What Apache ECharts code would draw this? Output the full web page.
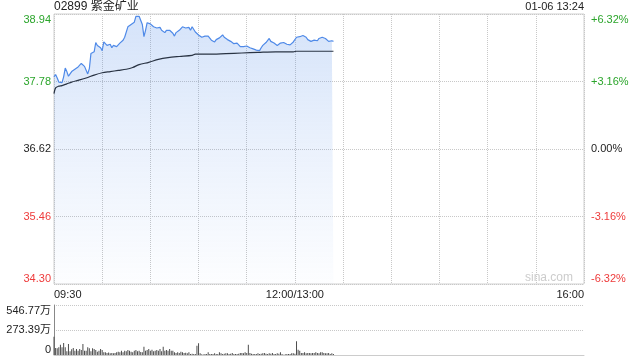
<!DOCTYPE html>
<html><head><meta charset="utf-8">
<script src="https://cdn.jsdelivr.net/npm/echarts@6.0.0/dist/echarts.min.js"></script>
<style>html,body{margin:0;padding:0;background:#fff}#c{width:640px;height:360px}</style>
</head><body><div id="c"></div>
<script>
const stockTitle = '02899 紫金矿业';
const stamp = '01-06 13:24';
const watermark = 'sina.com';

const priceTicks = ['34.30', '35.46', '36.62', '37.78', '38.94'];
const pctTicks = ['-6.32%', '-3.16%', '0.00%', '+3.16%', '+6.32%'];
const timeTickMinutes = [0, 150, 330];
const timeTickLabels = ['09:30', '12:00/13:00', '16:00'];
const volTicks = ['0', '273.39万', '546.77万'];
const volMax = 546.77;

// one price per minute from 09:30
const prices = [
  37.86,37.90,37.84,37.77,37.74,37.76,37.86,38.01,37.95,37.87,
  37.91,37.95,37.97,37.99,38.02,38.03,38.06,38.09,38.10,38.04,
  38.05,37.91,38.00,38.26,38.25,38.29,38.45,38.40,38.40,38.36,
  38.31,38.46,38.43,38.40,38.41,38.42,38.36,38.40,38.40,38.38,
  38.40,38.44,38.45,38.49,38.54,38.57,38.72,38.74,38.76,38.76,
  38.80,38.90,38.89,38.90,38.89,38.76,38.55,38.66,38.79,38.76,
  38.77,38.77,38.72,38.74,38.70,38.71,38.71,38.66,38.68,38.62,
  38.66,38.68,38.66,38.67,38.61,38.56,38.62,38.65,38.66,38.68,
  38.72,38.73,38.70,38.69,38.71,38.66,38.72,38.70,38.63,38.60,
  38.58,38.58,38.54,38.53,38.56,38.53,38.56,38.54,38.49,38.47,
  38.46,38.50,38.51,38.53,38.55,38.58,38.54,38.52,38.50,38.48,
  38.47,38.46,38.43,38.42,38.44,38.41,38.38,38.38,38.38,38.37,
  38.39,38.36,38.36,38.35,38.34,38.34,38.32,38.29,38.31,38.36,
  38.40,38.42,38.45,38.48,38.52,38.47,38.45,38.44,38.41,38.40,
  38.41,38.44,38.46,38.45,38.44,38.42,38.40,38.41,38.43,38.46,
  38.49,38.54,38.56,38.55,38.56,38.57,38.56,38.54,38.50,38.48,
  38.47,38.48,38.49,38.48,38.48,38.52,38.54,38.54,38.54,38.52,
  38.49,38.47,38.48,38.48,38.47
];

// average price line
const avgMinutes = [0,1,3,5,8,11,15,20,25,30,35,40,45,49,53,59,65,71,78,86,88,96,107,117,127,138,149,151,163,174];
const avgPrices = [37.57,37.67,37.70,37.71,37.74,37.77,37.80,37.84,37.89,37.93,37.95,37.97,37.99,38.02,38.07,38.11,38.16,38.19,38.21,38.23,38.25,38.25,38.26,38.27,38.28,38.29,38.29,38.30,38.30,38.30];

// volume per minute, in 万 shares
const volumes = [
  200,77,73,84,113,84,131,84,40,120,
  40,62,77,47,66,47,66,55,120,47,
  47,84,73,40,73,66,55,35,47,66,
  55,29,29,22,26,18,22,18,22,29,
  36,29,47,29,47,40,55,47,36,29,
  47,55,40,47,33,29,91,47,55,66,
  47,58,40,47,55,47,66,40,91,47,
  55,47,66,47,47,29,22,29,22,36,
  29,22,25,20,29,11,15,11,11,102,
  128,18,8,5,11,11,29,11,11,11,
  18,11,11,29,18,11,15,18,18,11,
  15,22,11,11,11,15,22,22,18,29,
  22,113,22,15,11,11,11,18,11,15,
  18,22,15,11,18,15,22,11,11,18,
  15,29,11,4,8,11,11,11,18,18,
  15,150,58,47,22,22,29,18,22,22,
  18,22,22,29,22,18,29,29,22,18,
  18,22,11,18,11
];

const base = parseFloat(priceTicks[0]);
const step = parseFloat(priceTicks[1]) - base;
const toY = p => (p - base) / step;
const volStep = volMax / (volTicks.length - 1);

const FONT = '"Liberation Sans", Arial, "Noto Sans CJK SC", sans-serif';
const UP = '#2ba52b', DOWN = '#ee3b3b', FLAT = '#222222';
const colorFor = v => { const i = Math.round(v); return i > 2 ? UP : (i < 2 ? DOWN : FLAT); };
const dotted = { type: 'dotted', color: '#c8c8c8', width: 1 };

const chart = echarts.init(document.getElementById('c'), null, { renderer: 'canvas' });
chart.setOption({
  animation: false,
  grid: [
    { left: 54, right: 56, top: 14, height: 270, show: true, borderColor: '#d0d0d0', borderWidth: 1 },
    { left: 54, right: 56, top: 305, height: 50 }
  ],
  xAxis: [
    { type: 'value', gridIndex: 0, min: 0, max: 330, interval: 30,
      axisLine: { show: false }, axisTick: { show: false },
      splitLine: { show: true, lineStyle: dotted },
      axisLabel: { fontSize: 11, color: '#222', fontFamily: FONT, margin: 5,
        showMinLabel: true, showMaxLabel: true, hideOverlap: false,
        alignMinLabel: 'left', alignMaxLabel: 'right',
        formatter: v => { const k = timeTickMinutes.indexOf(Math.round(v)); return k >= 0 ? timeTickLabels[k] : ''; } } },
    { type: 'value', gridIndex: 1, min: 0, max: 330, interval: 30,
      axisLine: { show: true, lineStyle: { color: '#cccccc' } }, axisTick: { show: false },
      axisLabel: { show: false }, splitLine: { show: false } }
  ],
  yAxis: [
    { type: 'value', gridIndex: 0, position: 'left', min: 0, max: priceTicks.length - 1, interval: 1,
      axisLine: { show: false }, axisTick: { show: false },
      splitLine: { show: true, lineStyle: dotted },
      axisLabel: { fontSize: 11, fontFamily: FONT, margin: 3,
        verticalAlignMinLabel: 'bottom', verticalAlignMaxLabel: 'top',
        color: v => colorFor(v),
        formatter: v => priceTicks[Math.round(v)] } },
    { type: 'value', gridIndex: 0, position: 'right', min: 0, max: pctTicks.length - 1, interval: 1,
      axisLine: { show: false }, axisTick: { show: false }, splitLine: { show: false },
      axisLabel: { fontSize: 11, fontFamily: FONT, margin: 7,
        verticalAlignMinLabel: 'bottom', verticalAlignMaxLabel: 'top',
        color: v => colorFor(v),
        formatter: v => pctTicks[Math.round(v)] } },
    { type: 'value', gridIndex: 1, position: 'left', min: 0, max: volTicks.length - 1, interval: 1,
      axisLine: { show: true, lineStyle: { color: '#888888' } }, axisTick: { show: false },
      splitLine: { show: true, lineStyle: dotted },
      axisLabel: { fontSize: 11, fontFamily: FONT, margin: 3, color: '#222',
        verticalAlignMinLabel: 'bottom', verticalAlignMaxLabel: 'top',
        formatter: v => volTicks[Math.round(v)] } }
  ],
  series: [
    { type: 'line', xAxisIndex: 0, yAxisIndex: 0, symbol: 'none',
      data: prices.map((p, i) => [i, toY(p)]),
      lineStyle: { color: '#4f8ae8', width: 1.2 },
      areaStyle: { origin: 'start', color: new echarts.graphic.LinearGradient(0, 0, 0, 1, [
        { offset: 0, color: 'rgba(79,138,232,0.34)' },
        { offset: 0.5, color: 'rgba(79,138,232,0.16)' },
        { offset: 1, color: 'rgba(79,138,232,0.02)' }]) } },
    { type: 'line', xAxisIndex: 0, yAxisIndex: 0, symbol: 'none', smooth: 0.3,
      data: avgMinutes.map((m, k) => [m, toY(avgPrices[k])]),
      lineStyle: { color: '#2a3444', width: 1.2 } },
    { type: 'bar', xAxisIndex: 1, yAxisIndex: 2, barWidth: 1,
      data: volumes.map((v, i) => [i, v / volStep]),
      itemStyle: { color: '#4d4d4d' } }
  ],
  graphic: [
    { type: 'text', left: 54, top: 1, style: { text: stockTitle, fontSize: 12, fontFamily: FONT, fill: '#222' } },
    { type: 'text', right: 56, top: 1, style: { text: stamp, fontSize: 11, fontFamily: FONT, fill: '#222' } },
    { type: 'text', right: 67, top: 272, style: { text: watermark, fontSize: 12, fontFamily: FONT, fill: '#cccccc' } }
  ]
});
</script>
</body></html>
